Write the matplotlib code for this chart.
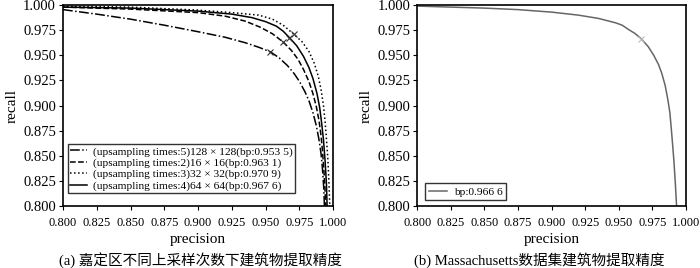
import matplotlib.pyplot as plt

plt.rcParams['font.family'] = ['Liberation Serif', 'Noto Sans CJK SC']

# 嘉定区 PR 曲线 (precision, recall)
p_128 = [0.800, 0.825, 0.850, 0.875, 0.900, 0.920, 0.935, 0.945, 0.9535, 0.960, 0.966, 0.971, 0.975,
         0.979, 0.982, 0.985, 0.9875, 0.9895, 0.991, 0.992, 0.993, 0.9935]
r_128 = [0.9955, 0.991, 0.986, 0.980, 0.9735, 0.968, 0.9625, 0.958, 0.9535, 0.9475, 0.940, 0.932, 0.924,
         0.914, 0.905, 0.893, 0.880, 0.866, 0.852, 0.838, 0.818, 0.800]

p_16 = [0.800, 0.850, 0.900, 0.920, 0.935, 0.946, 0.955, 0.9631, 0.969, 0.974, 0.978, 0.982, 0.985,
        0.9875, 0.9895, 0.991, 0.992, 0.993, 0.9938, 0.9945]
r_16 = [0.998, 0.996, 0.9925, 0.989, 0.984, 0.978, 0.9715, 0.9631, 0.955, 0.946, 0.936, 0.924, 0.912,
        0.899, 0.885, 0.870, 0.856, 0.838, 0.820, 0.800]

p_32 = [0.800, 0.850, 0.900, 0.925, 0.945, 0.955, 0.963, 0.9709, 0.977, 0.982, 0.986, 0.989, 0.991,
        0.9928, 0.994, 0.995, 0.996, 0.9968, 0.9975]
r_32 = [0.999, 0.998, 0.995, 0.9925, 0.990, 0.986, 0.980, 0.9709, 0.9635, 0.954, 0.942, 0.929, 0.916,
        0.900, 0.884, 0.867, 0.848, 0.825, 0.800]

p_64 = [0.800, 0.850, 0.900, 0.925, 0.940, 0.950, 0.958, 0.963, 0.9676, 0.973, 0.978, 0.982, 0.985,
        0.988, 0.990, 0.9915, 0.9928, 0.994, 0.995, 0.9955]
r_64 = [0.998, 0.997, 0.994, 0.991, 0.9875, 0.9835, 0.979, 0.974, 0.9676, 0.9595, 0.949, 0.938, 0.927,
        0.912, 0.898, 0.882, 0.866, 0.845, 0.822, 0.800]

bp_a = [0.9535, 0.9631, 0.9709, 0.9676]
labels_a = ['(upsampling times:5)128 × 128(bp:0.953 5)',
            '(upsampling times:2)16 × 16(bp:0.963 1)',
            '(upsampling times:3)32 × 32(bp:0.970 9)',
            '(upsampling times:4)64 × 64(bp:0.967 6)']

# Massachusetts PR 曲线
p_mass = [0.800, 0.850, 0.875, 0.900, 0.920, 0.935, 0.9475, 0.9525, 0.9575, 0.962, 0.9666, 0.972,
          0.976, 0.9795, 0.982, 0.9845, 0.9865, 0.988, 0.989, 0.990, 0.991, 0.992, 0.993]
r_mass = [0.999, 0.997, 0.9955, 0.993, 0.990, 0.9867, 0.9824, 0.980, 0.9755, 0.9718, 0.9666, 0.9585,
          0.950, 0.941, 0.932, 0.920, 0.906, 0.893, 0.878, 0.862, 0.845, 0.824, 0.800]
bp_mass = 0.9666

ticks = [0.800, 0.825, 0.850, 0.875, 0.900, 0.925, 0.950, 0.975, 1.000]

fig = plt.figure(figsize=(7, 2.68), dpi=100)
ax1 = fig.add_axes([0.09, 0.231, 0.386, 0.75])
ax2 = fig.add_axes([0.596, 0.231, 0.384, 0.75])

styles = ['-.', '--', ':', '-']
curves = [(p_128, r_128), (p_16, r_16), (p_32, r_32), (p_64, r_64)]
for (p, r), ls, lab, bp in zip(curves, styles, labels_a, bp_a):
    ax1.plot(p, r, ls, color='black', lw=1.1, label=lab)
    ax1.plot([bp], [bp], 'x', color='#333333', ms=4, mew=0.8)

ax2.plot(p_mass, r_mass, '-', color='#666666', lw=1.1, label='bp:0.966 6')
ax2.plot([bp_mass], [bp_mass], 'x', color='#bbbbbb', ms=4, mew=0.8)

for ax in (ax1, ax2):
    ax.set_xlim(0.8, 1.0)
    ax.set_ylim(0.8, 1.0)
    ax.set_xticks(ticks)
    ax.set_yticks(ticks)
    ax.set_xticklabels([f'{t:.3f}' for t in ticks])
    ax.set_yticklabels([f'{t:.3f}' for t in ticks])
    ax.tick_params(axis='x', labelsize=9, length=3, width=0.8, direction='out', pad=5)
    ax.tick_params(axis='y', labelsize=10.5, length=3, width=0.8, direction='out', pad=2)
    for s in ax.spines.values():
        s.set_linewidth(1.2)
    ax.set_xlabel('precision', fontsize=11, labelpad=3)
    ax.set_ylabel('recall', fontsize=11, labelpad=3)

leg1 = ax1.legend(loc='lower left', fontsize=8.2, frameon=True, fancybox=False,
                  edgecolor='black', handlelength=1.5, handletextpad=0.5, borderpad=0.2,
                  labelspacing=0.1, borderaxespad=0, bbox_to_anchor=(0.019, 0.065))
leg1.get_frame().set_linewidth(1.0)
leg2 = ax2.legend(loc='lower left', fontsize=8.2, frameon=True, fancybox=False,
                  edgecolor='black', handlelength=1.6, handletextpad=0.6, borderpad=0.3,
                  borderaxespad=0, bbox_to_anchor=(0.03, 0.03))
leg2.get_frame().set_linewidth(1.0)

fig.text(0.286, 0.03, '(a) 嘉定区不同上采样次数下建筑物提取精度', ha='center', va='center', fontsize=10.5)
fig.text(0.77, 0.03, '(b) Massachusetts数据集建筑物提取精度', ha='center', va='center', fontsize=10.5)

fig.savefig('out.png', dpi=100)
